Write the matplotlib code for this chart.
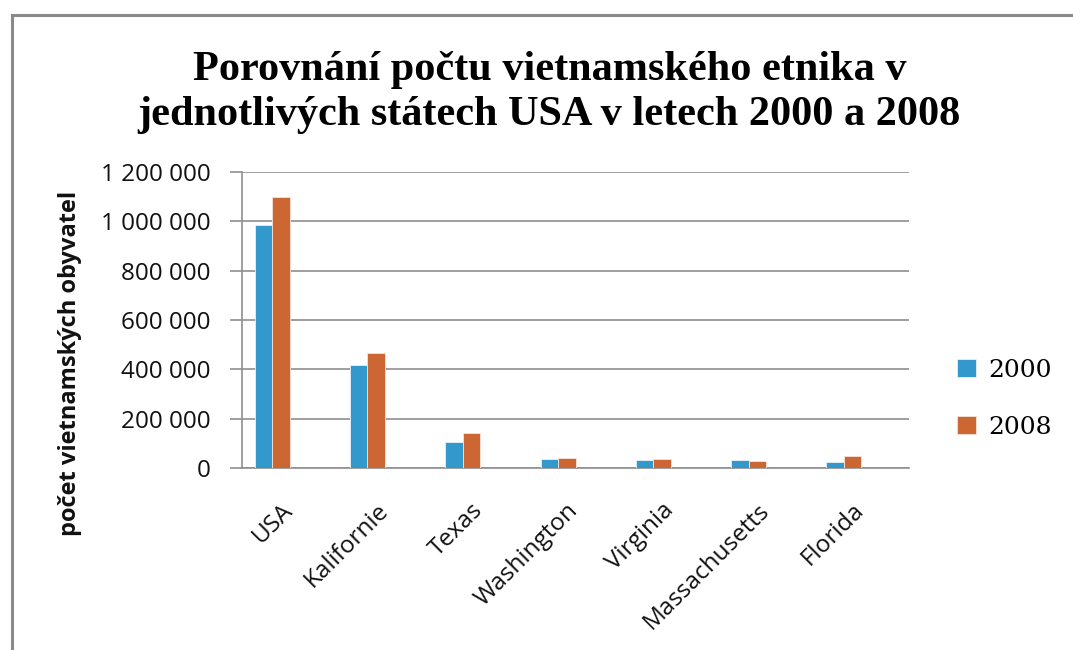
import numpy as np
import matplotlib
matplotlib.use("Agg")
import matplotlib.pyplot as plt
import matplotlib.patches as patches
import matplotlib.transforms as mtransforms
from matplotlib.ticker import FuncFormatter

# data
states = ["USA", "Kalifornie", "Texas", "Washington", "Virginia", "Massachusetts", "Florida"]
years = ["2000", "2008"]
vals2000 = [984000, 418000, 105000, 36000, 31000, 31000, 25000]
vals2008 = [1099000, 468000, 140000, 41000, 36000, 30000, 47000]
yticks = [0, 200000, 400000, 600000, 800000, 1000000, 1200000]

blue = "#3399cc"
orange = "#cc6633"
gridc = "#8f8f8f"

fig = plt.figure(figsize=(10.73, 6.5), dpi=100)
W, H = 1073, 650
ax = fig.add_axes([242 / W, 1 - 468 / H, (909 - 242) / W, (468 - 172) / H])

x = np.arange(len(states))
w = 0.183
ax.bar(x - 1.5 * w, vals2000, width=w, color=blue, edgecolor="#e8f2f8", linewidth=0.6, label=years[0], zorder=3)
ax.bar(x - 0.5 * w, vals2008, width=w, color=orange, edgecolor="#f5e3da", linewidth=0.6, label=years[1], zorder=3)

ax.set_xlim(-0.5, len(states) - 0.5)
ax.set_ylim(0, 1200000)
ax.set_yticks(yticks)
ax.yaxis.set_major_formatter(FuncFormatter(lambda v, p: f"{int(v):,}".replace(",", " ")))
ax.yaxis.grid(True, color=gridc, linewidth=1.2, zorder=0)
ax.set_axisbelow(True)

for s in ["top", "right"]:
    ax.spines[s].set_visible(False)
for s in ["left", "bottom"]:
    ax.spines[s].set_color(gridc)
    ax.spines[s].set_linewidth(1.2)

ax.tick_params(axis="y", length=8.5, width=1.2, color=gridc, pad=14,
               labelsize=17.5, labelcolor="#111111")
ax.tick_params(axis="x", length=0, pad=22, labelsize=17.5, labelcolor="#111111")
for lab in ax.get_yticklabels():
    lab.set_fontfamily("Open Sans")

ax.set_xticks(x)
ax.set_xticklabels(states, rotation=45, ha="right", va="top", fontfamily="Open Sans")
offset = mtransforms.ScaledTranslation(8 / 100, 0, fig.dpi_scale_trans)
for lab in ax.get_xticklabels():
    lab.set_transform(lab.get_transform() + offset)

# y axis title
fig.text(70 / W, 1 - 363 / H, "počet vietnamských obyvatel", rotation=90,
         ha="center", va="center", fontsize=17, fontweight="bold",
         fontfamily="Open Sans", color="#111111")

# title in two lines
fig.text(550 / W, 1 - 80 / H, "Porovnání počtu vietnamského etnika v", ha="center",
         va="baseline", fontsize=30.4, fontweight="bold", fontfamily="Liberation Serif")
fig.text(549 / W, 1 - 125 / H, "jednotlivých státech USA v letech 2000 a 2008", ha="center",
         va="baseline", fontsize=30.4, fontweight="bold", fontfamily="Liberation Serif")

leg = ax.legend(loc="center left", bbox_to_anchor=(957 / W, 1 - 399 / H),
                bbox_transform=fig.transFigure, frameon=False, borderpad=0,
                borderaxespad=0, handlelength=0.74, handleheight=0.74,
                handletextpad=0.5, labelspacing=1.35,
                prop={"family": "DejaVu Serif", "size": 18})

# outer chart frame (cut off on right and bottom)
frame = patches.Rectangle((12 / W, -0.2), 1.2, 1 - 15 / H + 0.2, transform=fig.transFigure,
                          fill=False, edgecolor="#8a8a8a", linewidth=2.2)
fig.patches.append(frame)

fig.savefig("out.png", dpi=100, facecolor="white")
